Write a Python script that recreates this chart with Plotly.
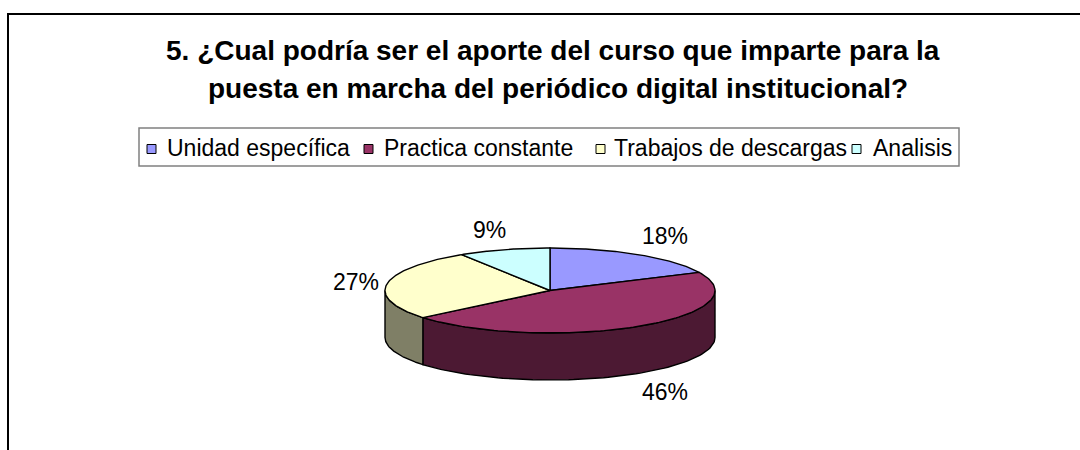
import numpy as np
import plotly.graph_objects as go

# ---------------- data ----------------
categories = ["Unidad específica", "Practica constante", "Trabajos de descargas", "Analisis"]
values = [18, 46, 27, 9]
top_colors = ["#9999FF", "#993366", "#FFFFCC", "#CCFFFF"]
title_lines = ["5. ¿Cual podría ser el aporte del curso que imparte para la",
               "puesta en marcha del periódico digital institucional?"]

# ---------------- layout parameters (pixels) ----------------
W, H = 1080, 450
CX, CY, RX, RY, DEPTH = 550, 290.5, 165, 42.5, 47
FONT = "Arial, 'Liberation Sans', sans-serif"
LEG_BOX = (139, 128, 959, 166)
LEG_SQ_X = [147, 364, 596, 852]
LEG_TX = [165, 382, 612, 871]
LEG_SQ = 9
LEG_Y = 148


def darken(hexc, f=0.5):
    h = hexc.lstrip("#")
    r, g, b = (int(h[i:i + 2], 16) for i in (0, 2, 4))
    return "#%02X%02X%02X" % (int(r * f), int(g * f), int(b * f))


def pt(theta_deg, dy=0.0):
    t = np.radians(theta_deg)
    return CX + RX * np.sin(t), CY - RY * np.cos(t) + dy


fig = go.Figure()

vals = np.array(values, dtype=float)
fr = vals / vals.sum()
ends = np.cumsum(fr) * 360
starts = ends - fr * 360

# side walls (visible front half: 90..270 deg, clockwise from 12 o'clock)
for i in range(len(values)):
    s, e = max(starts[i], 90), min(ends[i], 270)
    if s >= e:
        continue
    th = np.linspace(s, e, 80)
    xt, yt = pt(th)
    xb, yb = pt(th[::-1], DEPTH)
    xs = np.concatenate([xt, xb, xt[:1]])
    ys = np.concatenate([yt, yb, yt[:1]])
    fig.add_trace(go.Scatter(x=xs, y=ys, mode="lines", fill="toself",
                             fillcolor=darken(top_colors[i]),
                             line=dict(color="black", width=1.4),
                             hoverinfo="skip", showlegend=False))

# top faces
for i in range(len(values)):
    th = np.linspace(starts[i], ends[i], 120)
    xa, ya = pt(th)
    xs = np.concatenate([[CX], xa, [CX]])
    ys = np.concatenate([[CY], ya, [CY]])
    fig.add_trace(go.Scatter(x=xs, y=ys, mode="lines", fill="toself",
                             fillcolor=top_colors[i],
                             line=dict(color="black", width=1.4),
                             hoverinfo="skip", showlegend=False))

annotations = []
shapes = []

# data labels
G, HW, HH = 9, 22, 11
for i in range(len(values)):
    mid = (starts[i] + ends[i]) / 2
    t = np.radians(mid)
    sn, cs = np.sin(t), np.cos(t)
    ex, ey = pt(mid, DEPTH if cs < 0 else 0)
    lx = ex + sn * G + HW * np.clip(sn / 0.5, -1, 1)
    ly = ey - cs * G - HH * (np.sign(cs) if abs(cs) > 0.2 else 0)
    annotations.append(dict(x=lx, y=ly, xref="x", yref="y", text=f"{values[i]}%",
                            showarrow=False, xanchor="center", yanchor="middle",
                            font=dict(family=FONT, size=23, color="black")))

# title
annotations.append(dict(x=553, y=50, xref="x", yref="y", text=f"<b>{title_lines[0]}</b>",
                        showarrow=False, xanchor="center", yanchor="middle",
                        font=dict(family=FONT, size=28, color="black")))
annotations.append(dict(x=558, y=88, xref="x", yref="y", text=f"<b>{title_lines[1]}</b>",
                        showarrow=False, xanchor="center", yanchor="middle",
                        font=dict(family=FONT, size=28, color="black")))

# outer chart border
shapes.append(dict(type="rect", xref="x", yref="y", x0=8, y0=14, x1=W + 20, y1=H + 20,
                   line=dict(color="black", width=2), fillcolor="rgba(0,0,0,0)", layer="below"))

# legend
shapes.append(dict(type="rect", xref="x", yref="y", x0=LEG_BOX[0], y0=LEG_BOX[1],
                   x1=LEG_BOX[2], y1=LEG_BOX[3], line=dict(color="#808080", width=1.5),
                   fillcolor="white", layer="below"))
for i, name in enumerate(categories):
    x0 = LEG_SQ_X[i]
    shapes.append(dict(type="rect", xref="x", yref="y", x0=x0, y0=LEG_Y - LEG_SQ / 2 + 1,
                       x1=x0 + LEG_SQ, y1=LEG_Y + LEG_SQ / 2 + 1, fillcolor=top_colors[i],
                       line=dict(color="black", width=1)))
    annotations.append(dict(x=LEG_TX[i], y=LEG_Y, xref="x", yref="y", text=name,
                            showarrow=False, xanchor="left", yanchor="middle",
                            font=dict(family=FONT, size=23, color="black")))

fig.update_layout(
    width=W, height=H,
    margin=dict(l=0, r=0, t=0, b=0),
    paper_bgcolor="white", plot_bgcolor="white",
    xaxis=dict(range=[0, W], visible=False, fixedrange=True),
    yaxis=dict(range=[H, 0], visible=False, fixedrange=True),
    shapes=shapes, annotations=annotations, showlegend=False,
)

fig.write_html("out.html", config={"displayModeBar": False},
               post_script="document.body.style.margin='0';document.body.style.overflow='hidden';")
